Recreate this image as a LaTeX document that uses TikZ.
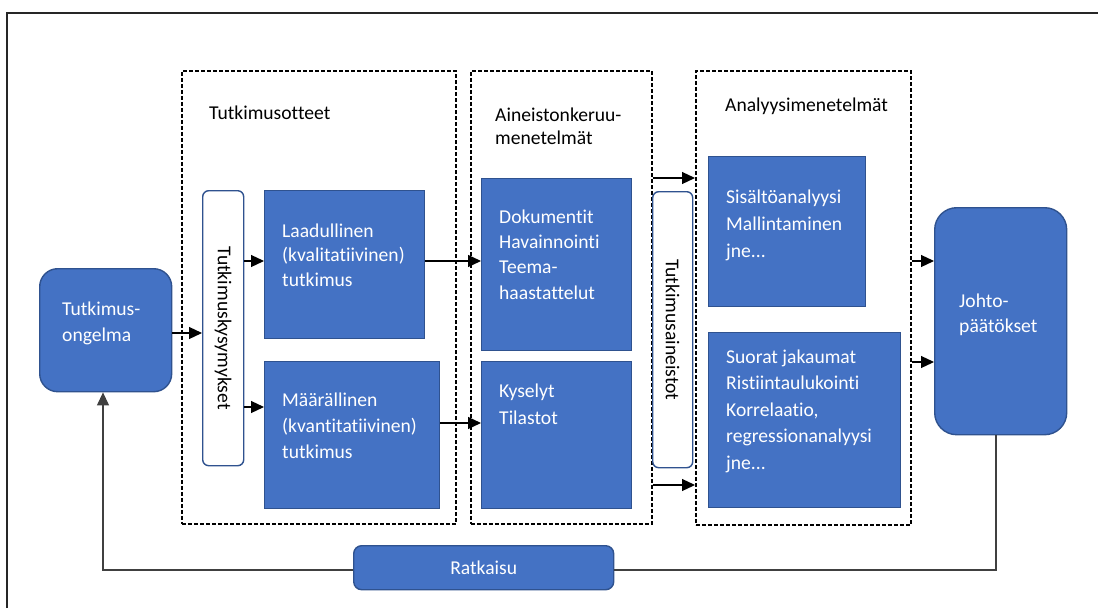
\documentclass[tikz,border=0pt]{standalone}
\usepackage{fontspec}
\setmainfont{Carlito}[Ligatures=NoCommon]
\usetikzlibrary{arrows.meta}
\definecolor{boxfill}{HTML}{4472C4}
\definecolor{boxline}{HTML}{2F528F}
\definecolor{fbline}{HTML}{404040}
\tikzset{
  bluebox/.style={draw=boxline, line width=1.4pt, fill=boxfill, anchor=north west, inner sep=0pt},
  roundbox/.style={bluebox, rounded corners=#1},
  sidebar/.style={draw=boxline, line width=1.4pt, fill=white, anchor=north west, inner sep=0pt, rounded corners=6pt},
  group/.style={draw=black, line width=1.6pt, dash pattern=on 4pt off 2pt, anchor=north west, inner sep=0pt},
  lbl/.style={anchor=base west, align=left, inner sep=0pt, font=\fontsize{19.6}{#1}\selectfont},
  lbl/.default=25,
  wlbl/.style={lbl=#1, text=white},
  wlbl/.default=25,
  tip/.style={-{Triangle[length=13pt,width=12pt]}},
  arr/.style={draw=black, line width=1.2pt, tip},
  fb/.style={draw=fbline, line width=1.2pt}
}
\begin{document}
\begin{tikzpicture}[x=1pt,y=-1pt]
\useasboundingbox (0,0) rectangle (1098,608);

% frame
\draw[line width=1.8pt, draw=black!85] (7,608) -- (7,13) -- (1098,13);

% dashed groups
\node[group, minimum width=274pt, minimum height=453pt] (g1) at (181,70) {};
\node[group, minimum width=181pt, minimum height=453pt] (g2) at (470,70) {};
\node[group, minimum width=215pt, minimum height=454pt] (g3) at (695,70) {};

% group titles (anchored at the baseline of the last line)
\node[lbl] (t1) at (209,119) {Tutkimusotteet};
\node[lbl=23] (t2) at (495,144) {Aineistonkeruu-\\menetelmät};
\node[lbl] (t3) at (725,111) {Analyysimenetelmät};

% problem
\node[roundbox=18pt, minimum width=132pt, minimum height=123pt] (ong) at (39,268) {};
\node[wlbl=26] (ongt) at (62,341) {Tutkimus-\\ongelma};

% research questions
\node[sidebar, minimum width=41pt, minimum height=275pt] (kys) at (202,190) {};
\node[lbl, anchor=center, rotate=-90] (kyst) at (kys.center) {Tutkimuskysymykset};

% approaches
\node[bluebox, minimum width=160pt, minimum height=148pt] (laad) at (264,190) {};
\node[wlbl=24.5] (laadt) at (282,286) {Laadullinen\\(kvalitatiivinen)\\tutkimus};
\node[bluebox, minimum width=175pt, minimum height=147pt] (maar) at (264,361) {};
\node[wlbl=26] (maart) at (282,458) {Määrällinen\\(kvantitatiivinen)\\tutkimus};

% data collection
\node[bluebox, minimum width=150pt, minimum height=172pt] (dok) at (481,178) {};
\node[wlbl=25.3] (dokt) at (499,299) {Dokumentit\\Havainnointi\\Teema-\\haastattelut};
\node[bluebox, minimum width=150pt, minimum height=147pt] (kysl) at (481,361) {};
\node[wlbl=27] (kyslt) at (499,424) {Kyselyt\\Tilastot};

% data sets
\node[sidebar, minimum width=40pt, minimum height=276pt] (ain) at (652,191) {};
\node[lbl, anchor=center, rotate=-90] (aint) at (ain.center) {Tutkimusaineistot};

% analysis
\node[bluebox, minimum width=157pt, minimum height=150pt] (sis) at (708,156) {};
\node[wlbl=27] (sist) at (726,257) {Sisältöanalyysi\\Mallintaminen\\jne...};
\node[bluebox, minimum width=192pt, minimum height=175pt] (suo) at (708,332) {};
\node[wlbl=26.5] (suot) at (726,469) {Suorat jakaumat\\Ristiintaulukointi\\Korrelaatio,\\regressionanalyysi\\jne...};

% conclusions
\node[roundbox=22pt, minimum width=132pt, minimum height=227pt] (joh) at (934,207) {};
\node[wlbl] (joht) at (959,332) {Johto-\\päätökset};

% solution
\node[roundbox=8pt, minimum width=260pt, minimum height=44pt] (rat) at (353,545) {};
\node[lbl, anchor=center, text=white] (ratt) at (rat.center) {Ratkaisu};

% connector heights
\coordinate (yA) at (0,333);
\coordinate (yB) at (0,261);
\coordinate (yC) at (0,407);
\coordinate (yD) at (0,423);
\coordinate (yE) at (0,178);
\coordinate (yF) at (0,485);
\coordinate (yG) at (0,362);

% connectors
\draw[arr] (ong.east |- yA) -- (kys.west |- yA);
\draw[arr] (kys.east |- yB) -- (laad.west |- yB);
\draw[arr] (kys.east |- yC) -- (maar.west |- yC);
\draw[arr] (laad.east |- yB) -- (dok.west |- yB);
\draw[arr] (maar.east |- yD) -- (kysl.west |- yD);
\draw[arr] (g2.east |- yE) -- (g3.west |- yE);
\draw[arr] (g2.east |- yF) -- (g3.west |- yF);
\draw[arr] (g3.east |- yB) -- (joh.west |- yB);
\draw[arr] (g3.east |- yG) -- (joh.west |- yG);

% feedback loop
\coordinate (fbR) at (996,570);
\coordinate (fbL) at (103,570);
\draw[fb] (joh.south -| fbR) -- (fbR) -- (rat.east |- fbR);
\draw[fb, tip] (rat.west |- fbL) -- (fbL) -- (ong.south -| fbL);
\end{tikzpicture}
\end{document}
